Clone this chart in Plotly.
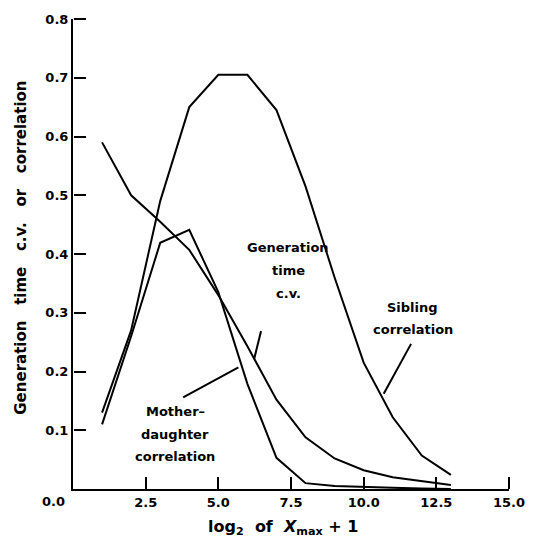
import plotly.graph_objects as go

x_vals = [1, 2, 3, 4, 5, 6, 7, 8, 9, 10, 11, 12, 13]
sibling_corr = [0.13, 0.27, 0.49, 0.65, 0.705, 0.705, 0.645, 0.515, 0.36, 0.215, 0.122, 0.057, 0.024]
gen_time_cv = [0.59, 0.50, 0.455, 0.407, 0.33, 0.243, 0.152, 0.088, 0.052, 0.032, 0.02, 0.013, 0.007]
mother_daughter = [0.11, 0.26, 0.419, 0.441, 0.335, 0.179, 0.053, 0.01, 0.005, 0.003, 0.002, 0.001, 0.0]

x_ticks = [2.5, 5.0, 7.5, 10.0, 12.5, 15.0]
y_ticks = [0.1, 0.2, 0.3, 0.4, 0.5, 0.6, 0.7, 0.8]
x_range = [0, 15]
y_range = [0, 0.8]

FONT = "DejaVu Sans"
line_style = dict(color="black", width=2)

def fnt(size):
    return dict(family=FONT, size=size, color="black", weight="bold")

fig = go.Figure()
for name, ys in [("Sibling correlation", sibling_corr),
                 ("Generation time c.v.", gen_time_cv),
                 ("Mother-daughter correlation", mother_daughter)]:
    fig.add_trace(go.Scatter(x=x_vals, y=ys, mode="lines", name=name,
                             line=line_style, showlegend=False))

# empty traces binding the overlay axes that carry the inward-pointing ticks
fig.add_trace(go.Scatter(x=[], y=[], xaxis="x", yaxis="y2", showlegend=False, hoverinfo="skip"))
fig.add_trace(go.Scatter(x=[], y=[], xaxis="x2", yaxis="y", showlegend=False, hoverinfo="skip"))

labels = [
    (["Generation", "time", "c.v."], 7.40, 0.372),
    (["Mother\u2013", "daughter", "correlation"], 3.51, 0.093),
    (["Sibling", "correlation"], 11.69, 0.290),
]
line_gap = 0.0385
for lines, cx, cy in labels:
    n = len(lines)
    for i, t in enumerate(lines):
        yy = cy + ((n - 1) / 2 - i) * line_gap
        fig.add_annotation(x=cx, y=yy, xref="x", yref="y", text=t, showarrow=False,
                           font=fnt(13), xanchor="center", yanchor="middle")

leaders = [
    (6.47, 0.269, 6.23, 0.221),
    (3.79, 0.156, 5.69, 0.207),
    (11.63, 0.247, 10.69, 0.162),
]
for x0, y0, x1, y1 in leaders:
    fig.add_shape(type="line", xref="x", yref="y", x0=x0, y0=y0, x1=x1, y1=y1,
                  line=dict(color="black", width=2))

gap = "\u00a0" * 3
fig.add_annotation(xref="paper", yref="paper", x=(21 - 73) / 436, y=(489 - 246) / 473.3,
                   text=gap.join(["Generation", "time", "c.v.", "or", "correlation"]),
                   textangle=-90, showarrow=False, xanchor="center", yanchor="middle",
                   font=fnt(15))
fig.add_annotation(xref="paper", yref="paper", x=(283 - 73) / 436, y=(489 - 528) / 473.3,
                   text="log<sub>2</sub>\u00a0\u00a0of\u00a0\u00a0<i>X</i><sub>max</sub>\u00a0+\u00a01",
                   showarrow=False, xanchor="center", yanchor="middle",
                   font=fnt(16))
fig.add_annotation(xref="paper", yref="paper", x=(67 - 73) / 436, y=(489 - 502) / 473.3,
                   text="0.0", showarrow=False, xanchor="right", yanchor="middle",
                   font=fnt(13))

main_axis = dict(showline=True, linecolor="black", linewidth=2, ticks="",
                 showgrid=False, zeroline=False, tickfont=fnt(13), tickmode="array")
tick_axis = dict(showline=False, ticks="outside", ticklen=12, tickwidth=2, tickcolor="black",
                 showticklabels=False, showgrid=False, zeroline=False, tickmode="array")

fig.update_layout(
    width=537, height=540,
    margin=dict(l=73, r=28, t=16, b=51),
    paper_bgcolor="white", plot_bgcolor="white",
    font=fnt(13),
    xaxis=dict(range=x_range, tickvals=x_ticks, tickformat=".1f", **main_axis),
    yaxis=dict(range=y_range, tickvals=y_ticks, tickformat=".1f", **main_axis),
    xaxis2=dict(range=x_range, tickvals=x_ticks, overlaying="x", side="top",
                anchor="free", position=0, **tick_axis),
    yaxis2=dict(range=y_range, tickvals=y_ticks, overlaying="y", side="right",
                anchor="free", position=0, **tick_axis),
)

fig.write_html("out.html")
